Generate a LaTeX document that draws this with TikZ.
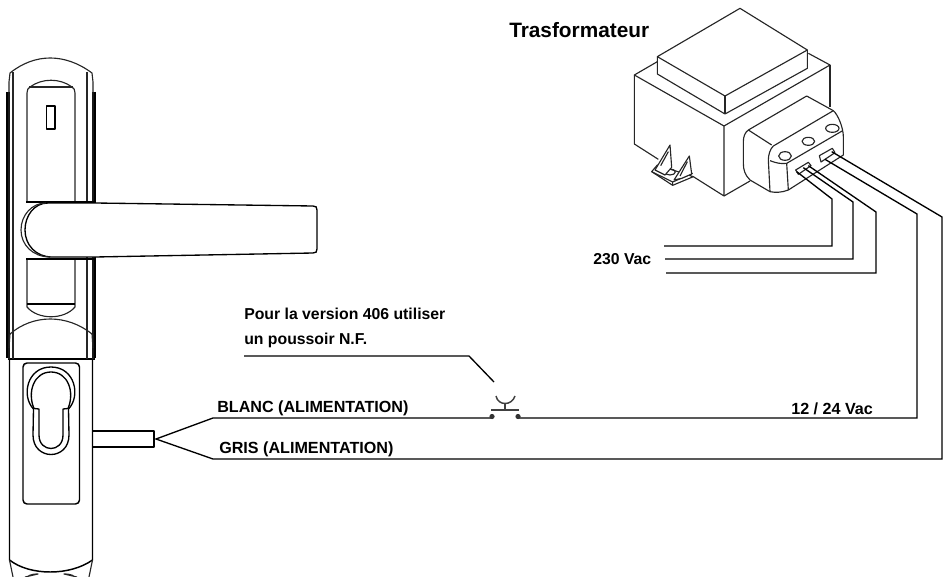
\documentclass[tikz,border=0pt]{standalone}
\usepackage{fontspec}
\setmainfont{Liberation Sans}
\tikzset{
 x=0.75pt,y=-0.75pt,
 wire/.style={draw=black,line width=1pt,line join=miter},
 fine/.style={draw=black!85,line width=0.85pt,line join=round},
 med/.style={draw=black,line width=1pt,line join=round},
 heavy/.style={draw=black,line width=2.4pt},
 lab/.style={anchor=west,inner sep=0pt,font=\fontsize{11.85pt}{13pt}\selectfont\bfseries},
 labw/.style={anchor=west,inner sep=0pt,font=\fontsize{12.1pt}{13pt}\selectfont\bfseries},
 title/.style={anchor=west,inner sep=0pt,font=\fontsize{15.6pt}{18pt}\selectfont\bfseries},
}
\begin{document}
\begin{tikzpicture}
\useasboundingbox (0,0) rectangle (944,577);
% ---------- handle plate
\draw[heavy] (8,92) -- (8,358);
\draw[heavy] (94,92) -- (94,358);
\draw[heavy,line width=1.8pt] (8,359) -- (95,359);
\draw[fine] (9,359) -- (9,82) -- (10,73) .. controls (35,53) and (65,53) .. (92,73) -- (93,82) -- (93,359);
\draw[fine] (13,359) -- (13,72);
\draw[fine] (87,359) -- (87,72);
\draw[fine] (27,202) -- (27,93) .. controls (27,90) and (28,88) .. (30,87) .. controls (42,78) and (60,78) .. (72,87) .. controls (74,88) and (75,90) .. (75,93) -- (75,202);
\draw[fine] (29,87) -- (73,87);
\draw[med,line width=1.2pt] (46.5,106) rectangle (55,129);
\draw[fine] (27,259) -- (27,307) .. controls (38,320) and (64,320) .. (75,307) -- (75,259);
\draw[med] (27,304) -- (75,304);
\draw[fine] (10,334) .. controls (33,314) and (67,314) .. (92,334);
\draw[fine] (9,348) -- (10,334);
\draw[fine] (93,348) -- (92,334);
\draw[med,line width=1.4pt] (26,202) -- (95,202);
\draw[med,line width=1.4pt] (26,259) -- (95,259);
% lever
\path[fill=white] (46,203) .. controls (32,203) and (21,215) .. (21,230) .. controls (21,245) and (33,257) .. (50,257) -- (95,257) -- (313,253) -- (317,249) -- (317,210) -- (313,206) -- (95,203) -- cycle;
\draw[med] (48,203) -- (95,203) -- (313,206) .. controls (316,206) and (317,207) .. (317,210) -- (317,249) .. controls (317,252) and (316,253) .. (313,253) -- (95,257) -- (52,257) .. controls (36,257) and (25,245) .. (25,230) .. controls (25,216) and (34,203) .. (48,203);
\draw[fine] (46,203) .. controls (32,203) and (21,215) .. (21,230) .. controls (21,245) and (33,257) .. (50,257);
% lower plate
\draw[med,line width=1.1pt] (9.5,360) -- (9.5,560) .. controls (30,576) and (70,576) .. (92.5,560) -- (92.5,360);
\draw[fine] (9.5,560) -- (13,577);
\draw[fine] (92.5,560) -- (89,577);
\draw[fine] (27,577) .. controls (30,574) and (36,574) .. (38,574) -- (25,577);
\draw[fine] (75,577) .. controls (72,574) and (66,574) .. (64,574) -- (77,577);
\draw[med,line width=1.1pt,rounded corners=3pt] (23,363) rectangle (79.5,504);
% keyhole
\draw[med] (33.5,409) .. controls (21,396) and (27,367) .. (51,367) .. controls (75,367) and (81,396) .. (68.5,409) -- (69,435) .. controls (69,461) and (33,461) .. (33,435) -- cycle;
\draw[med] (39,409) -- (34,408.5) .. controls (27,392) and (34,372) .. (51,372) .. controls (68,372) and (75,392) .. (68,408.5) -- (63,409) -- (63,435) .. controls (63,453) and (39,453) .. (39,435) -- cycle;
% cable stub
\draw[med,line width=1.4pt] (93,431) -- (154,431) -- (154,447) -- (93,447);
% ---------- transformer (coordinates of a 3x view)
\begin{scope}[shift={(600,0)},x=0.25pt,y=-0.25pt]
\draw[fine] (172,170) -- (420,25) -- (622,150) -- (375,288) -- cycle;
\draw[fine] (172,170) -- (172,222) -- (375,342) -- (622,205) -- (622,150);
\draw[fine] (375,288) -- (375,342);
\draw[fine] (172,185) -- (103,225) -- (372,378) -- (690,195) -- (625,160);
\draw[fine] (103,225) -- (103,432) -- (175,478);
\draw[fine] (372,378) -- (372,588) -- (280,530);
\draw[fine] (690,195) -- (690,320);
\draw[fine] (372,588) -- (450,543);
% connector
\draw[fine,fill=white] (445,390) -- (620,288) -- (700,332) .. controls (715,345) and (730,385) .. (730,410) -- (730,465) -- (565,570) .. controls (545,578) and (525,578) .. (510,575) -- (450,540) .. controls (435,525) and (430,510) .. (430,490) -- (430,425) .. controls (430,410) and (435,397) .. (445,390) -- cycle;
\draw[fine] (445,390) -- (515,435);
\draw[fine] (700,332) -- (520,438) .. controls (510,447) and (505,465) .. (505,480) -- (510,575);
\draw[fine] (510,482) .. controls (530,490) and (545,492) .. (560,490) -- (728,392);
\draw[fine] (560,490) -- (565,570);
\draw[fine] (555,468) ellipse (19 and 13);
\draw[fine] (625,424) ellipse (19 and 12);
\draw[fine] (697,385) ellipse (20 and 12);
\draw[fine] (587,510) -- (625,487) -- (633,497) -- (595,523) -- cycle;
\draw[fine] (658,467) -- (697,445) -- (705,458) -- (663,486) -- cycle;
% foot
\draw[fine,fill=white] (155,515) -- (172,495) -- (280,530) -- (218,556) -- cycle;
\draw[fine] (218,546) -- (278,520);
\draw[fine] (155,515) -- (218,546) -- (218,556);
\draw[fine] (210,516) ellipse (16 and 9);
\draw[fine,fill=white] (165,510) -- (210,435) -- (215,502) -- (195,525) -- cycle;
\draw[fine] (182,497) -- (205,455);
\draw[fine,fill=white] (222,540) -- (268,468) -- (275,522) -- (245,535) -- cycle;
\draw[fine] (240,528) -- (262,485);
% named terminals
\coordinate (t1) at (590,515);
\coordinate (t2) at (610,503);
\coordinate (t3) at (625,497);
\coordinate (t4) at (675,478);
\coordinate (t5) at (695,455);
\end{scope}
% ---------- named points
\coordinate (m1) at (832,199);
\coordinate (m2) at (853,202);
\coordinate (m3) at (876,212);
\coordinate (c1) at (832,246);
\coordinate (c2) at (853,259);
\coordinate (c3) at (876,273);
\coordinate (e1) at (664,246);
\coordinate (e2) at (665,259);
\coordinate (e3) at (666,273);
\coordinate (m4) at (917,214);
\coordinate (m5) at (942,217);
\coordinate (c4) at (917,418);
\coordinate (c5) at (942,459);
\coordinate (apex) at (156,439);
\coordinate (wl) at (213,418);
\coordinate (gl) at (213,459);
\coordinate (pl) at (244,356);
\coordinate (pm) at (469,356);
\coordinate (pe) at (494,382);
% ---------- wires
\draw[wire] (t1) -- (m1) -- (c1) -- (e1);
\draw[wire] (t2) -- (m2) -- (c2) -- (e2);
\draw[wire] (t3) -- (m3) -- (c3) -- (e3);
\draw[wire] (t4) -- (m4) -- (c4) -- (518,418);
\draw[wire] (t5) -- (m5) -- (c5) -- (gl) -- (apex) -- (wl) -- (492,418);
\draw[wire] (pl) -- (pm) -- (pe);
% ---------- push button
\fill[black!80] (492,416.5) circle (2.6);
\fill[black!80] (518,416.5) circle (2.6);
\draw[med,black!75,line width=1.1pt] (491,410) -- (519,410);
\draw[med,black!75,line width=1.1pt] (505,403) -- (505,410);
\draw[med,black!75,line width=1.1pt] (496,396) .. controls (498,406) and (512,406) .. (515,396);
% ---------- labels
\node[title] (title) at (509,30) {Trasformateur};
\node[lab] (v230) at (593,259) {230 Vac};
\node[lab] (pour) at (244,314) {Pour la version 406 utiliser};
\node[lab] (poussoir) at (244,340) {un poussoir N.F.};
\node[labw] (blanc) at (217,408.5) {BLANC (ALIMENTATION)};
\node[labw] (gris) at (219,449.5) {GRIS (ALIMENTATION)};
\node[labw] (v12) at (791,409) {12 / 24 Vac};
\end{tikzpicture}
\end{document}
